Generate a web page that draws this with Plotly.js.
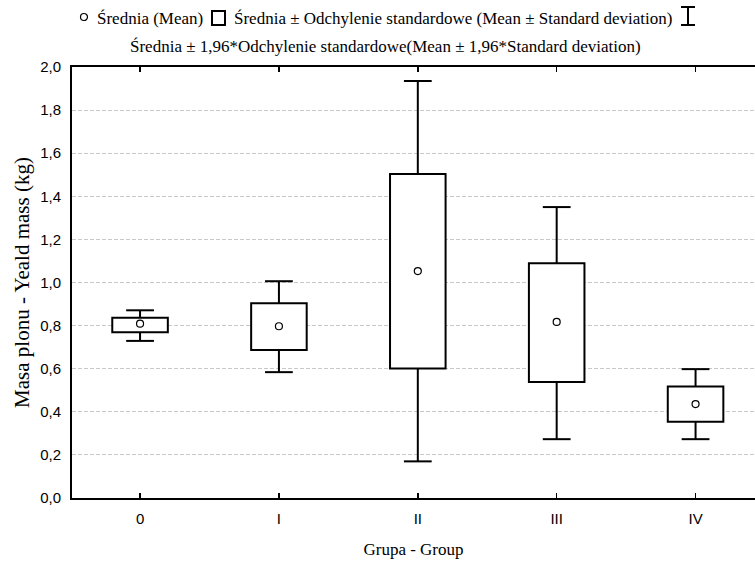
<!DOCTYPE html>
<html>
<head>
<meta charset="utf-8">
<script src="https://cdn.plot.ly/plotly-3.0.1.min.js"></script>
<style>html,body{margin:0;padding:0;background:#fff;}#chart{width:755px;height:563px;}</style>
</head>
<body>
<div id="chart"></div>
<script>
// Data
const groups = ['0', 'I', 'II', 'III', 'IV'];
const meanVals = [0.809, 0.797, 1.053, 0.817, 0.436];
const sdLow = [0.769, 0.687, 0.601, 0.538, 0.354];
const sdHigh = [0.837, 0.904, 1.503, 1.089, 0.517];
const ciLow = [0.729, 0.584, 0.170, 0.273, 0.273];
const ciHigh = [0.871, 1.006, 1.935, 1.350, 0.598];
const yTicks = [0, 0.2, 0.4, 0.6, 0.8, 1.0, 1.2, 1.4, 1.6, 1.8, 2.0];

const W = 755, H = 563, ML = 72, MR = 0, MT = 67, MB = 65;
const pw = W - ML - MR, ph = H - MT - MB;
const px = x => (x - ML) / pw;
const py = y => (H - MB - y) / ph;

const serif = 'Liberation Serif, Times New Roman, serif';
const sans = 'Liberation Sans, Arial, sans-serif';

const pos = groups.map((g, i) => i);
const boxW = 0.4, capHalf = 0.1;

// whisker stems and caps, built from the data arrays
const wx = [], wy = [];
pos.forEach((p, i) => {
  wx.push(p, p, null, p - capHalf, p + capHalf, null, p, p, null, p - capHalf, p + capHalf, null);
  wy.push(sdHigh[i], ciHigh[i], null, ciHigh[i], ciHigh[i], null, sdLow[i], ciLow[i], null, ciLow[i], ciLow[i], null);
});

const traces = [
  {
    type: 'bar',
    x: pos,
    base: sdLow,
    y: sdHigh.map((h, i) => h - sdLow[i]),
    width: boxW,
    marker: {color: 'white', line: {color: 'black', width: 2}},
    hoverinfo: 'skip',
    showlegend: false
  },
  {
    type: 'scatter',
    mode: 'lines',
    x: wx,
    y: wy,
    line: {color: 'black', width: 2},
    connectgaps: false,
    hoverinfo: 'skip',
    showlegend: false
  },
  {
    type: 'scatter',
    mode: 'markers',
    x: pos,
    y: meanVals,
    marker: {symbol: 'circle-open', size: 7, color: 'black', line: {width: 1.2, color: 'black'}},
    hoverinfo: 'skip',
    showlegend: false
  }
];

const shapes = [
  {type: 'circle', xref: 'paper', yref: 'paper', x0: px(80.5), x1: px(87.5), y0: py(20.5), y1: py(13.5), line: {color: 'black', width: 1.2}},
  {type: 'rect', xref: 'paper', yref: 'paper', x0: px(212), x1: px(225), y0: py(25), y1: py(11), line: {color: 'black', width: 2}},
  {type: 'line', xref: 'paper', yref: 'paper', x0: px(688), x1: px(688), y0: py(25), y1: py(7), line: {color: 'black', width: 2}},
  {type: 'line', xref: 'paper', yref: 'paper', x0: px(681), x1: px(695), y0: py(7), y1: py(7), line: {color: 'black', width: 2}},
  {type: 'line', xref: 'paper', yref: 'paper', x0: px(681), x1: px(695), y0: py(25), y1: py(25), line: {color: 'black', width: 2}}
];

const legFont = {family: serif, size: 17, color: 'black'};
const annotations = [
  {xref: 'paper', yref: 'paper', x: px(95), y: py(18), xanchor: 'left', yanchor: 'middle', showarrow: false, text: 'Średnia (Mean)', font: legFont},
  {xref: 'paper', yref: 'paper', x: px(232), y: py(18), xanchor: 'left', yanchor: 'middle', showarrow: false, text: 'Średnia ± Odchylenie standardowe (Mean ± Standard deviation)', font: legFont},
  {xref: 'paper', yref: 'paper', x: px(385), y: py(46), xanchor: 'center', yanchor: 'middle', showarrow: false, text: 'Średnia ± 1,96*Odchylenie standardowe(Mean ± 1,96*Standard deviation)', font: legFont}
];

const layout = {
  width: W, height: H,
  margin: {l: ML, r: MR, t: MT, b: MB, pad: 0},
  paper_bgcolor: 'white', plot_bgcolor: 'white',
  separators: ', ',
  showlegend: false,
  barmode: 'overlay',
  xaxis: {
    type: 'linear',
    range: [-0.49, 4.428],
    tickvals: pos, ticktext: groups,
    showline: true, linecolor: 'black', linewidth: 2,
    mirror: 'ticks',
    ticks: 'inside', ticklen: 5, tickwidth: 1.5, tickcolor: 'black',
    showgrid: false, zeroline: false,
    tickfont: {family: sans, size: 15, color: 'black'},
    ticklabelstandoff: 6,
    title: {text: 'Grupa - Group', font: {family: serif, size: 17, color: 'black'}, standoff: 17}
  },
  yaxis: {
    range: [0, 2],
    tickvals: yTicks,
    tickformat: '.1f',
    showline: true, linecolor: 'black', linewidth: 2,
    mirror: false,
    ticks: '',
    showgrid: true, gridcolor: '#c8c8c8', gridwidth: 1, griddash: '4px,2px',
    zeroline: false,
    tickfont: {family: sans, size: 15, color: 'black'},
    ticklabelstandoff: 6,
    title: {text: 'Masa plonu - Yeald mass (kg)', font: {family: serif, size: 21, color: 'black'}, standoff: 5}
  },
  shapes: shapes,
  annotations: annotations
};

Plotly.newPlot('chart', traces, layout, {staticPlot: true, displayModeBar: false});
</script>
</body>
</html>
